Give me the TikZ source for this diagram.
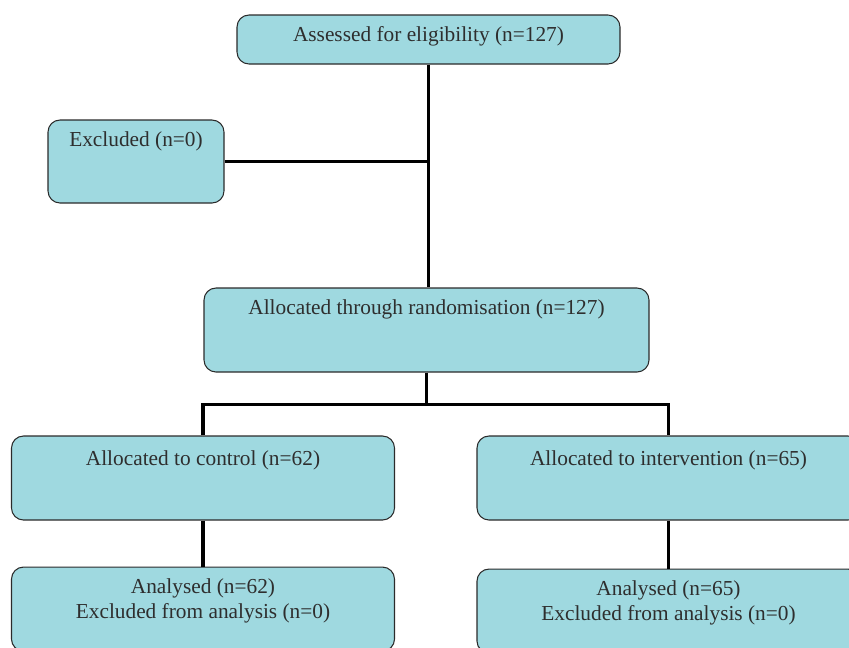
\documentclass[tikz,border=0pt]{standalone}
\usepackage{fontspec}
\setmainfont{Liberation Serif}
\usetikzlibrary{positioning}
\definecolor{FlowFill}{HTML}{9FD9E0}
\definecolor{FlowRule}{HTML}{2B2B2B}
\definecolor{FlowText}{HTML}{2E2E2E}

\begin{document}
\begin{tikzpicture}[x=0.75pt,y=-0.75pt,
  flowbox/.style={draw=FlowRule,fill=FlowFill,rounded corners=9pt,line width=0.8pt,
    inner sep=0pt,align=center,text=FlowText,font=\fontsize{16}{18.75}\selectfont,
    text height=19.5pt,text depth=43.5pt,minimum width=287.25pt},
  link/.style={line width=2.6pt,black}]
  \useasboundingbox (0,0) rectangle (849,647);
  \node[flowbox,text depth=17.25pt] (assess) at (428.5,39.5)
        {Assessed for eligibility (n=127)};
  \node[flowbox,text depth=42.75pt,minimum width=132pt] (excl) at (136,161.5)
        {Excluded (n=0)};
  \node[flowbox,minimum width=333.75pt] (random) at (426.5,330)
        {Allocated through randomisation (n=127)};
  \node[flowbox,text height=21.75pt,text depth=41.25pt] (ctrl) at (203,478)
        {Allocated to control (n=62)};
  \node[flowbox,text height=21.75pt,text depth=41.25pt] (intv) at (668.5,478)
        {Allocated to intervention (n=65)};
  \node[flowbox,text height=38.25pt,text depth=24.75pt,below=34.5pt of ctrl] (anactrl)
        {Analysed (n=62)\\Excluded from analysis (n=0)};
  \node[flowbox,text height=38.25pt,text depth=24.75pt,below=36pt of intv] (anaintv)
        {Analysed (n=65)\\Excluded from analysis (n=0)};
  % connectors
  \draw[link] (assess.south) -- (assess.south |- random.north);
  \draw[link] (excl.east) -- (excl.east -| assess.south);
  \draw[link] (random.south) -- ++(0,32) coordinate (split);
  \draw[link] (ctrl.north) |- (split) -| (intv.north);
  \draw[link] (ctrl.south) -- (anactrl.north);
  \draw[link] (intv.south) -- (anaintv.north);
\end{tikzpicture}
\end{document}
